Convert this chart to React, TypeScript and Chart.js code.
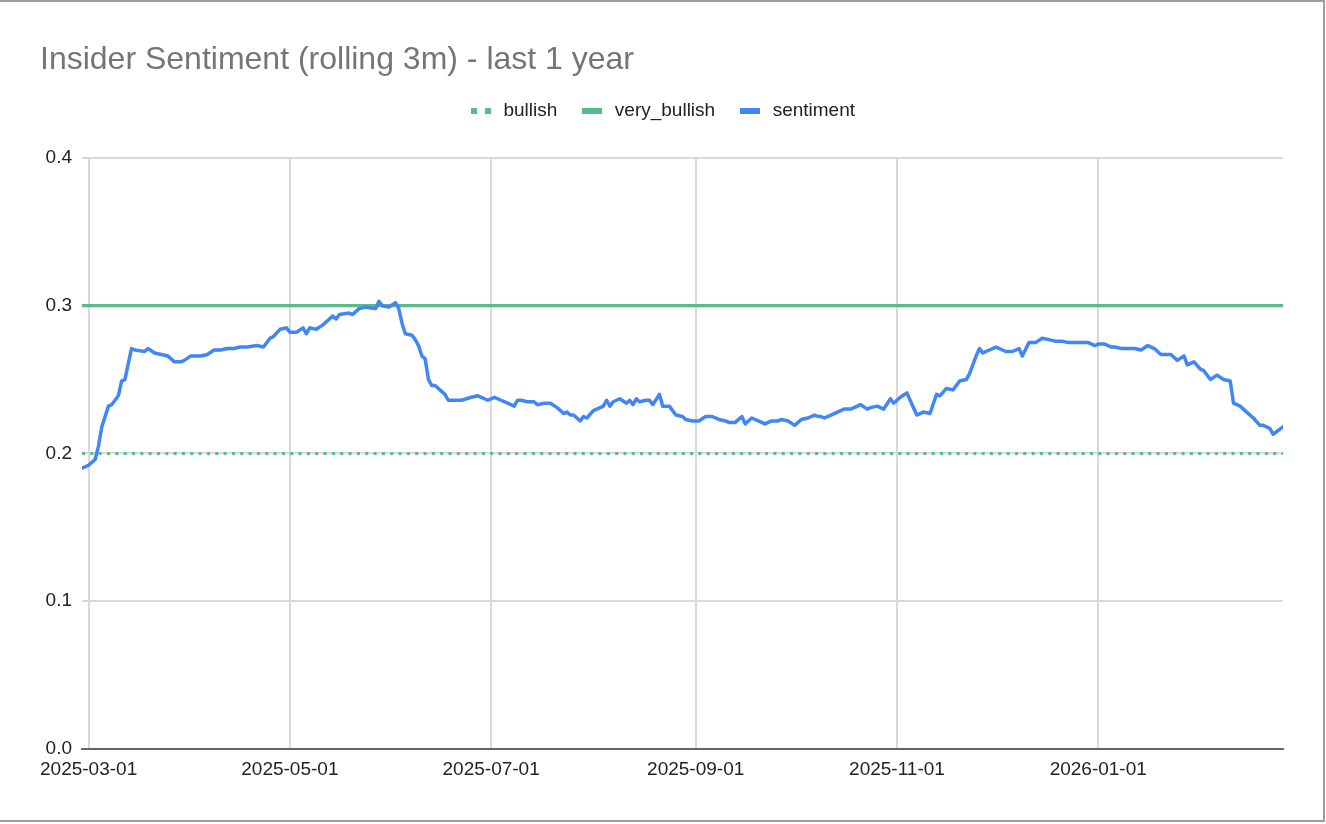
import React, { useEffect, useRef } from "react";
import { Chart, registerables } from "chart.js";

Chart.register(...registerables);

// ---------- data ----------
const START_DATE = "2025-03-01"; // day 0
const xMinDay = -2; // 2025-02-27
const xMaxDay = 362; // 2026-02-26

const tickLabels = ["2025-03-01", "2025-05-01", "2025-07-01", "2025-09-01", "2025-11-01", "2026-01-01"];
const yTickValues = [0, 0.1, 0.2, 0.3, 0.4];

// days since START_DATE
const sentimentDays = [
  -2, 0, 2, 3, 4, 6, 7, 9, 10, 11,
  13, 14, 17, 18, 20, 22, 24, 26, 28, 29,
  31, 34, 36, 38, 40, 42, 44, 46, 48, 51,
  53, 55, 56, 58, 60, 61, 63, 65, 66, 67,
  69, 71, 74, 75, 76, 79, 80, 82, 84, 87,
  88, 89, 91, 93, 94, 95, 96, 98, 99, 100,
  101, 102, 103, 104, 105, 107, 108, 109, 111, 113,
  116, 118, 120, 121, 123, 125, 127, 129, 130, 131,
  133, 135, 136, 138, 140, 142, 144, 145, 146, 147,
  149, 150, 151, 153, 154, 156, 157, 158, 159, 161,
  163, 164, 165, 166, 167, 169, 170, 171, 173, 174,
  176, 178, 180, 181, 183, 185, 187, 189, 191, 193,
  194, 196, 198, 199, 201, 203, 205, 207, 209, 210,
  212, 214, 216, 218, 220, 221, 222, 223, 225, 227,
  229, 231, 232, 234, 236, 237, 239, 241, 243, 244,
  246, 248, 251, 253, 255, 257, 258, 260, 262, 264,
  266, 267, 269, 270, 271, 273, 275, 278, 280, 282,
  283, 285, 287, 289, 291, 293, 295, 297, 300, 303,
  305, 306, 308, 310, 311, 313, 315, 317, 319, 321,
  323, 325, 328, 330, 332, 333, 335, 337, 338, 340,
  342, 344, 346, 347, 349, 351, 353, 355, 356, 358,
  359, 362,
];

const sentimentValues = [
  0.190, 0.192, 0.196, 0.205, 0.218, 0.232, 0.233, 0.239, 0.249, 0.250,
  0.271, 0.270, 0.269, 0.271, 0.268, 0.267, 0.266, 0.262, 0.262, 0.263,
  0.266, 0.266, 0.267, 0.270, 0.270, 0.271, 0.271, 0.272, 0.272, 0.273,
  0.272, 0.278, 0.279, 0.284, 0.285, 0.282, 0.282, 0.285, 0.281, 0.285,
  0.284, 0.287, 0.293, 0.291, 0.294, 0.295, 0.294, 0.298, 0.299, 0.298,
  0.303, 0.300, 0.299, 0.302, 0.298, 0.288, 0.281, 0.280, 0.277, 0.273,
  0.266, 0.264, 0.250, 0.246, 0.246, 0.242, 0.240, 0.236, 0.236, 0.236,
  0.238, 0.239, 0.237, 0.236, 0.238, 0.236, 0.234, 0.232, 0.236, 0.236,
  0.235, 0.235, 0.233, 0.234, 0.234, 0.231, 0.227, 0.228, 0.226, 0.226,
  0.222, 0.225, 0.224, 0.229, 0.230, 0.232, 0.236, 0.232, 0.235, 0.237,
  0.234, 0.236, 0.233, 0.237, 0.235, 0.236, 0.236, 0.233, 0.240, 0.232,
  0.232, 0.226, 0.225, 0.223, 0.222, 0.222, 0.225, 0.225, 0.223, 0.222,
  0.221, 0.221, 0.225, 0.220, 0.224, 0.222, 0.220, 0.222, 0.222, 0.223,
  0.222, 0.219, 0.223, 0.224, 0.226, 0.225, 0.225, 0.224, 0.226, 0.228,
  0.230, 0.230, 0.231, 0.233, 0.230, 0.231, 0.232, 0.230, 0.237, 0.234,
  0.238, 0.241, 0.226, 0.228, 0.227, 0.240, 0.239, 0.244, 0.243, 0.249,
  0.250, 0.254, 0.266, 0.271, 0.268, 0.270, 0.272, 0.269, 0.269, 0.271,
  0.266, 0.275, 0.275, 0.278, 0.277, 0.276, 0.276, 0.275, 0.275, 0.275,
  0.273, 0.274, 0.274, 0.272, 0.272, 0.271, 0.271, 0.271, 0.270, 0.273,
  0.271, 0.267, 0.267, 0.263, 0.266, 0.260, 0.262, 0.257, 0.256, 0.250,
  0.253, 0.250, 0.249, 0.234, 0.232, 0.228, 0.224, 0.219, 0.219, 0.217,
  0.213, 0.218,
];

const levelDays = [-2, 362];
const bullishValues = [0.2, 0.2];
const veryBullishValues = [0.3, 0.3];

// ---------- styles ----------
const FONT = "'Liberation Sans', Arial, sans-serif";
const BLUE = "#4285f4";
const GREEN = "#57bb8a";
const GRID = "#d9d9d9";
const AXIS = "#666666";
const TEXT = "#222222";

function dayOffset(iso: string): number {
  const [y, m, d] = iso.split("-").map(Number);
  const [y0, m0, d0] = START_DATE.split("-").map(Number);
  return Math.round((Date.UTC(y, m - 1, d) - Date.UTC(y0, m0 - 1, d0)) / 86400000);
}

function makeIcon(color: string, dotted: boolean): HTMLCanvasElement {
  const c = document.createElement("canvas");
  c.width = 20;
  c.height = 6;
  const g = c.getContext("2d")!;
  g.fillStyle = color;
  if (dotted) {
    g.fillRect(0, 0, 6, 6);
    g.fillRect(14, 0, 6, 6);
  } else {
    g.fillRect(0, 0, 20, 6);
  }
  return c;
}

const legendMargin = {
  id: "legendMargin",
  beforeInit(chart: any) {
    const legend = chart.legend;
    if (!legend) return;
    const orig = legend.fit;
    legend.fit = function () {
      orig.call(this);
      this.height += 27.5;
    };
  },
};

export default function App() {
  const ref = useRef<HTMLCanvasElement>(null);

  useEffect(() => {
    const canvas = ref.current!;
    const tickDays = tickLabels.map(dayOffset);
    const labelByDay = new Map<number, string>(tickDays.map((d, i) => [d, tickLabels[i]]));

    const chart = new Chart(canvas, {
      type: "line",
      data: {
        datasets: [
          {
            label: "sentiment",
            data: sentimentDays.map((d, i) => ({ x: d, y: sentimentValues[i] })),
            borderColor: BLUE,
            backgroundColor: BLUE,
            borderWidth: 3.5,
            pointRadius: 0,
            pointStyle: makeIcon(BLUE, false) as any,
            tension: 0,
            borderJoinStyle: "round",
            borderCapStyle: "round",
          },
          {
            label: "very_bullish",
            data: levelDays.map((d, i) => ({ x: d, y: veryBullishValues[i] })),
            borderColor: GREEN,
            backgroundColor: GREEN,
            borderWidth: 3.3,
            pointRadius: 0,
            pointStyle: makeIcon(GREEN, false) as any,
          },
          {
            label: "bullish",
            data: levelDays.map((d, i) => ({ x: d, y: bullishValues[i] })),
            borderColor: GREEN,
            backgroundColor: GREEN,
            borderWidth: 3,
            borderDash: [3, 5.33],
            borderCapStyle: "butt",
            pointRadius: 0,
            pointStyle: makeIcon(GREEN, true) as any,
          },
        ],
      },
      options: {
        responsive: false,
        animation: false,
        devicePixelRatio: 1,
        layout: { padding: { left: 40, right: 43, top: 0, bottom: 0 } },
        plugins: {
          title: {
            display: true,
            text: "Insider Sentiment (rolling 3m) - last 1 year",
            align: "start",
            color: "#757575",
            font: { family: FONT, size: 32, weight: "normal" },
            padding: { top: 41, bottom: 0 },
          },
          legend: {
            display: true,
            reverse: true,
            labels: {
              usePointStyle: true,
              pointStyleWidth: 26,
              padding: 22,
              color: TEXT,
              font: { family: FONT, size: 19 },
            },
          },
          tooltip: { enabled: false },
        },
        scales: {
          x: {
            type: "linear",
            min: xMinDay,
            max: xMaxDay,
            afterBuildTicks: (s: any) => {
              s.ticks = tickDays.map((v) => ({ value: v }));
            },
            afterFit: (s: any) => {
              s.height = 75;
            },
            ticks: {
              autoSkip: false,
              maxRotation: 0,
              padding: 9,
              color: TEXT,
              font: { family: FONT, size: 19 },
              callback: (v: any) => labelByDay.get(Number(v)) ?? "",
            },
            grid: { color: GRID, lineWidth: 2, drawTicks: false },
            border: { display: true, color: AXIS, width: 2 },
          },
          y: {
            min: 0,
            max: 0.4,
            afterBuildTicks: (s: any) => {
              s.ticks = yTickValues.map((v) => ({ value: v }));
            },
            afterFit: (s: any) => {
              s.width = 42;
            },
            ticks: {
              padding: 10,
              color: TEXT,
              font: { family: FONT, size: 19 },
              callback: (v: any) => Number(v).toFixed(1),
            },
            grid: {
              color: (ctx: any) => (ctx.tick && ctx.tick.value === 0 ? AXIS : GRID),
              lineWidth: 2,
              drawTicks: false,
            },
            border: { display: false },
          },
        },
      } as any,
      plugins: [legendMargin as any],
    });

    return () => chart.destroy();
  }, []);

  return (
    <div style={{ position: "absolute", left: 0, top: 0, width: 1326, height: 824, background: "#ffffff", overflow: "hidden" }}>
      <canvas ref={ref} width={1326} height={824} style={{ display: "block", width: 1326, height: 824 }} />
      <div
        style={{
          position: "absolute",
          left: -3,
          top: 0,
          width: 1328,
          height: 822,
          border: "2px solid #9e9e9e",
          boxSizing: "border-box",
          pointerEvents: "none",
        }}
      />
    </div>
  );
}
